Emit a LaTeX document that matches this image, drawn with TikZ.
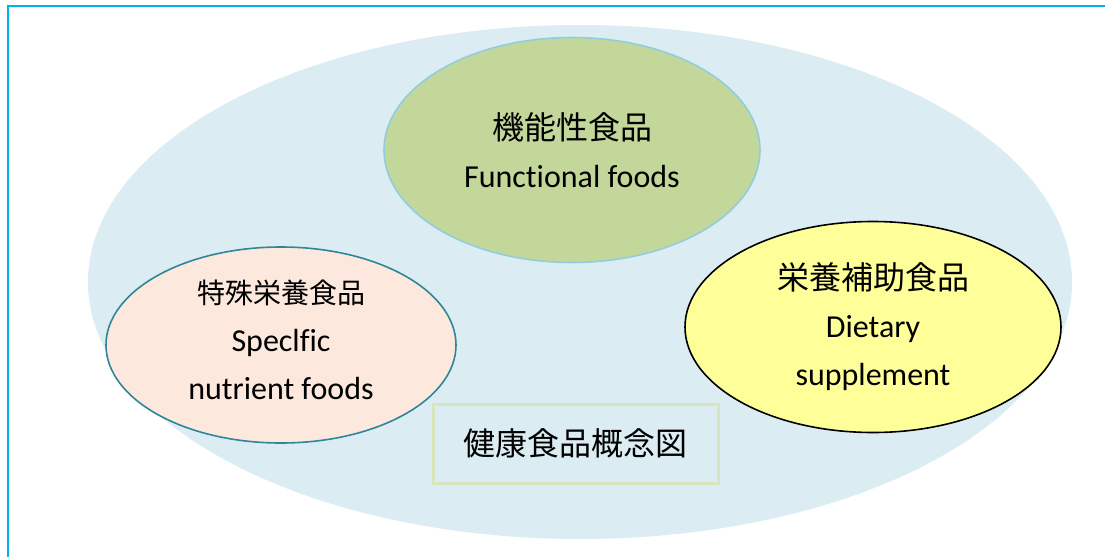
\documentclass[tikz,border=0pt]{standalone}
\usepackage{fontspec}
\setmainfont{Carlito}[Ligatures=NoCommon]
\newfontfamily\cjk{Noto Sans CJK JP}
\usetikzlibrary{shapes.geometric}
\definecolor{framecyan}{RGB}{0,176,240}
\definecolor{bigfill}{RGB}{219,237,243}
\definecolor{greenfill}{RGB}{196,215,155}
\definecolor{greenborder}{RGB}{146,205,221}
\definecolor{peachfill}{RGB}{252,232,220}
\definecolor{tealborder}{RGB}{49,133,155}
\definecolor{yellowfill}{RGB}{255,255,153}
\definecolor{boxborder}{RGB}{215,228,189}
\tikzset{
  oval/.style={ellipse, inner sep=0pt, align=center, font=\fontsize{32}{48}\selectfont},
  ovaltext/.style={inner sep=0pt, align=center, font=\fontsize{32}{48}\selectfont},
}
\begin{document}
\begin{tikzpicture}[x=1pt,y=-1pt]
\useasboundingbox (0,0) rectangle (1105,557);
\draw[framecyan, line width=2.2pt] (8,557) -- (8,6) -- (1105,6);
\node[ellipse, fill=bigfill, minimum width=984pt, minimum height=514pt] (big) at (580,282) {};
\node[oval, fill=greenfill, draw=greenborder, line width=1.6pt, minimum width=376pt, minimum height=225pt] (func) at (572,150)
  {{\cjk\fontsize{32}{48}\selectfont 機能性食品}\\Functional foods};
\node[oval, fill=peachfill, draw=tealborder, line width=1.6pt, minimum width=350pt, minimum height=196pt] (spec) at (281,345) {};
\node[ovaltext] (spectext) at ([yshift=5pt]spec.center)
  {{\cjk\fontsize{28}{48}\selectfont 特殊栄養食品}\\Speclfic\\nutrient foods};
\node[oval, fill=yellowfill, draw=black, line width=1.6pt, minimum width=376pt, minimum height=211pt] (diet) at (873,327)
  {{\cjk\fontsize{32}{48}\selectfont 栄養補助食品}\\Dietary\\supplement};
\node[draw=boxborder, fill=bigfill, line width=3pt, minimum width=285pt, minimum height=79pt, inner sep=0pt,
  font=\cjk\fontsize{32}{36}\selectfont] (title) at (575.5,443.5) {健康食品概念図};
\end{tikzpicture}
\end{document}
